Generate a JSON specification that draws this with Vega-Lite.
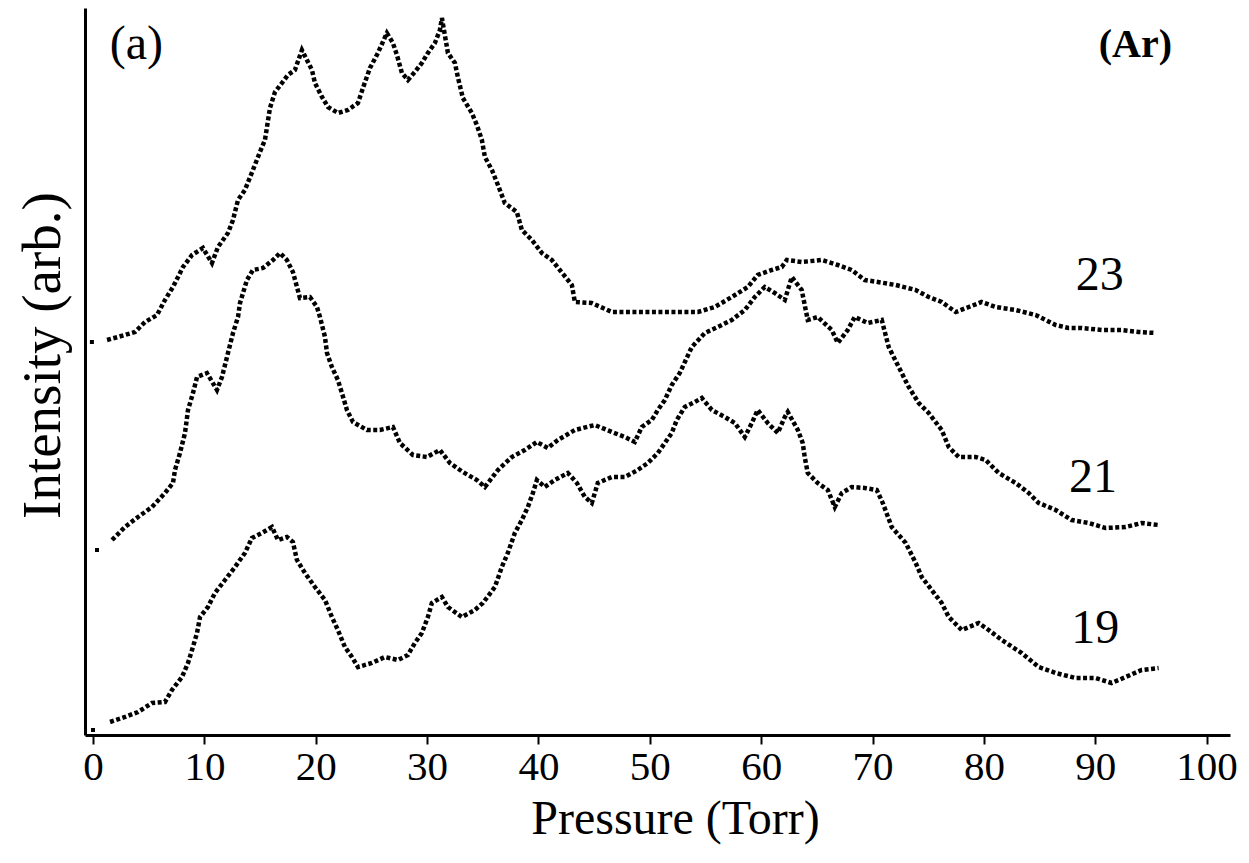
{
  "$schema": "https://vega.github.io/schema/vega-lite/v6.json",
  "width": 1145,
  "height": 727,
  "autosize": "none",
  "padding": {"left": 85, "top": 8, "right": 19, "bottom": 128},
  "background": "white",
  "config": {"view": {"stroke": null}, "font": "Liberation Serif"},
  "datasets": {
    "curves": [
      {"s":"23","p":1.26,"v":395},{"s":"23","p":2.24,"v":398},{"s":"23","p":3.77,"v":403},{"s":"23","p":4.67,"v":413},{"s":"23","p":5.75,"v":420},{"s":"23","p":6.46,"v":435},{"s":"23","p":7.18,"v":448},{"s":"23","p":8.08,"v":468},{"s":"23","p":8.89,"v":480},{"s":"23","p":9.87,"v":487},{"s":"23","p":10.68,"v":472},{"s":"23","p":11.22,"v":488},{"s":"23","p":12.12,"v":502},{"s":"23","p":12.57,"v":515},{"s":"23","p":13.02,"v":535},{"s":"23","p":13.64,"v":545},{"s":"23","p":14.36,"v":565},{"s":"23","p":14.99,"v":583},{"s":"23","p":15.44,"v":595},{"s":"23","p":15.89,"v":627},{"s":"23","p":16.34,"v":643},{"s":"23","p":16.97,"v":652},{"s":"23","p":17.5,"v":660},{"s":"23","p":18.13,"v":665},{"s":"23","p":18.76,"v":685},{"s":"23","p":19.66,"v":665},{"s":"23","p":19.93,"v":652},{"s":"23","p":20.56,"v":638},{"s":"23","p":21.1,"v":628},{"s":"23","p":21.99,"v":622},{"s":"23","p":22.89,"v":625},{"s":"23","p":23.79,"v":632},{"s":"23","p":24.24,"v":647},{"s":"23","p":24.87,"v":667},{"s":"23","p":25.58,"v":682},{"s":"23","p":26.39,"v":702},{"s":"23","p":26.93,"v":692},{"s":"23","p":27.29,"v":680},{"s":"23","p":27.74,"v":662},{"s":"23","p":28.28,"v":655},{"s":"23","p":28.9,"v":663},{"s":"23","p":29.53,"v":672},{"s":"23","p":30.07,"v":682},{"s":"23","p":30.7,"v":692},{"s":"23","p":31.15,"v":705},{"s":"23","p":31.33,"v":717},{"s":"23","p":31.87,"v":682},{"s":"23","p":32.5,"v":672},{"s":"23","p":32.76,"v":658},{"s":"23","p":33.21,"v":637},{"s":"23","p":34.02,"v":622},{"s":"23","p":34.47,"v":610},{"s":"23","p":34.92,"v":595},{"s":"23","p":35.19,"v":578},{"s":"23","p":35.82,"v":565},{"s":"23","p":36.36,"v":550},{"s":"23","p":36.98,"v":532},{"s":"23","p":38.06,"v":523},{"s":"23","p":38.51,"v":505},{"s":"23","p":39.41,"v":495},{"s":"23","p":40.31,"v":482},{"s":"23","p":41.2,"v":475},{"s":"23","p":41.92,"v":465},{"s":"23","p":43.0,"v":450},{"s":"23","p":43.27,"v":433},{"s":"23","p":44.79,"v":432},{"s":"23","p":46.59,"v":423},{"s":"23","p":48.38,"v":423},{"s":"23","p":50.18,"v":423},{"s":"23","p":51.97,"v":423},{"s":"23","p":54.31,"v":423},{"s":"23","p":55.83,"v":428},{"s":"23","p":57.36,"v":438},{"s":"23","p":58.8,"v":448},{"s":"23","p":59.69,"v":460},{"s":"23","p":60.95,"v":465},{"s":"23","p":61.85,"v":468},{"s":"23","p":62.3,"v":475},{"s":"23","p":63.64,"v":473},{"s":"23","p":65.44,"v":475},{"s":"23","p":66.88,"v":470},{"s":"23","p":68.13,"v":465},{"s":"23","p":69.3,"v":455},{"s":"23","p":70.47,"v":453},{"s":"23","p":72.08,"v":450},{"s":"23","p":73.88,"v":445},{"s":"23","p":75.04,"v":438},{"s":"23","p":76.21,"v":433},{"s":"23","p":77.47,"v":423},{"s":"23","p":78.64,"v":428},{"s":"23","p":79.8,"v":433},{"s":"23","p":81.06,"v":428},{"s":"23","p":82.85,"v":425},{"s":"23","p":84.65,"v":420},{"s":"23","p":86.45,"v":410},{"s":"23","p":87.61,"v":407},{"s":"23","p":88.78,"v":407},{"s":"23","p":90.57,"v":405},{"s":"23","p":92.37,"v":405},{"s":"23","p":93.9,"v":403},{"s":"23","p":95.42,"v":402},
      {"s":"21","p":1.71,"v":195},{"s":"21","p":2.87,"v":208},{"s":"21","p":4.04,"v":218},{"s":"21","p":5.3,"v":228},{"s":"21","p":6.46,"v":242},{"s":"21","p":7.18,"v":252},{"s":"21","p":7.36,"v":265},{"s":"21","p":7.81,"v":282},{"s":"21","p":8.26,"v":302},{"s":"21","p":8.53,"v":325},{"s":"21","p":8.98,"v":342},{"s":"21","p":9.34,"v":358},{"s":"21","p":10.23,"v":362},{"s":"21","p":11.13,"v":345},{"s":"21","p":11.58,"v":358},{"s":"21","p":12.03,"v":378},{"s":"21","p":12.57,"v":402},{"s":"21","p":13.02,"v":418},{"s":"21","p":13.2,"v":432},{"s":"21","p":13.82,"v":455},{"s":"21","p":14.36,"v":465},{"s":"21","p":15.26,"v":467},{"s":"21","p":16.16,"v":475},{"s":"21","p":16.79,"v":482},{"s":"21","p":17.41,"v":475},{"s":"21","p":17.95,"v":463},{"s":"21","p":18.58,"v":437},{"s":"21","p":19.48,"v":438},{"s":"21","p":20.11,"v":428},{"s":"21","p":20.38,"v":418},{"s":"21","p":20.83,"v":398},{"s":"21","p":21.01,"v":382},{"s":"21","p":21.45,"v":368},{"s":"21","p":21.99,"v":355},{"s":"21","p":22.35,"v":342},{"s":"21","p":22.8,"v":325},{"s":"21","p":23.34,"v":313},{"s":"21","p":24.6,"v":305},{"s":"21","p":25.76,"v":305},{"s":"21","p":26.93,"v":308},{"s":"21","p":27.56,"v":292},{"s":"21","p":28.73,"v":280},{"s":"21","p":29.98,"v":278},{"s":"21","p":31.15,"v":285},{"s":"21","p":32.05,"v":272},{"s":"21","p":33.21,"v":263},{"s":"21","p":34.47,"v":255},{"s":"21","p":35.19,"v":248},{"s":"21","p":36.36,"v":265},{"s":"21","p":37.61,"v":278},{"s":"21","p":38.78,"v":285},{"s":"21","p":39.86,"v":293},{"s":"21","p":40.84,"v":287},{"s":"21","p":41.74,"v":295},{"s":"21","p":43.27,"v":305},{"s":"21","p":45.06,"v":310},{"s":"21","p":46.59,"v":303},{"s":"21","p":47.76,"v":298},{"s":"21","p":48.65,"v":293},{"s":"21","p":49.28,"v":308},{"s":"21","p":50.18,"v":315},{"s":"21","p":50.72,"v":325},{"s":"21","p":51.35,"v":335},{"s":"21","p":51.97,"v":350},{"s":"21","p":52.69,"v":362},{"s":"21","p":53.77,"v":388},{"s":"21","p":54.94,"v":402},{"s":"21","p":56.1,"v":408},{"s":"21","p":57.36,"v":415},{"s":"21","p":58.53,"v":425},{"s":"21","p":59.43,"v":438},{"s":"21","p":60.32,"v":448},{"s":"21","p":61.22,"v":442},{"s":"21","p":62.12,"v":435},{"s":"21","p":62.75,"v":458},{"s":"21","p":63.64,"v":445},{"s":"21","p":64.18,"v":415},{"s":"21","p":65.08,"v":418},{"s":"21","p":66.34,"v":405},{"s":"21","p":66.88,"v":392},{"s":"21","p":67.77,"v":405},{"s":"21","p":68.4,"v":418},{"s":"21","p":69.57,"v":412},{"s":"21","p":70.83,"v":415},{"s":"21","p":71.45,"v":388},{"s":"21","p":72.35,"v":368},{"s":"21","p":73.25,"v":348},{"s":"21","p":74.15,"v":332},{"s":"21","p":75.04,"v":322},{"s":"21","p":76.21,"v":305},{"s":"21","p":76.84,"v":288},{"s":"21","p":77.74,"v":278},{"s":"21","p":79.26,"v":278},{"s":"21","p":80.16,"v":275},{"s":"21","p":81.33,"v":262},{"s":"21","p":82.85,"v":252},{"s":"21","p":84.02,"v":242},{"s":"21","p":84.92,"v":232},{"s":"21","p":86.45,"v":225},{"s":"21","p":87.88,"v":215},{"s":"21","p":89.41,"v":212},{"s":"21","p":90.93,"v":207},{"s":"21","p":92.73,"v":208},{"s":"21","p":94.17,"v":212},{"s":"21","p":95.69,"v":210},
      {"s":"19","p":1.53,"v":13},{"s":"19","p":2.87,"v":18},{"s":"19","p":4.04,"v":23},{"s":"19","p":5.3,"v":32},{"s":"19","p":6.46,"v":33},{"s":"19","p":7.09,"v":45},{"s":"19","p":7.99,"v":58},{"s":"19","p":8.53,"v":72},{"s":"19","p":8.89,"v":85},{"s":"19","p":9.34,"v":102},{"s":"19","p":9.61,"v":118},{"s":"19","p":10.32,"v":128},{"s":"19","p":10.95,"v":142},{"s":"19","p":11.85,"v":155},{"s":"19","p":12.75,"v":168},{"s":"19","p":13.64,"v":182},{"s":"19","p":14.27,"v":197},{"s":"19","p":15.17,"v":202},{"s":"19","p":16.07,"v":208},{"s":"19","p":16.61,"v":195},{"s":"19","p":17.41,"v":198},{"s":"19","p":17.95,"v":193},{"s":"19","p":18.31,"v":175},{"s":"19","p":19.03,"v":162},{"s":"19","p":19.93,"v":148},{"s":"19","p":20.83,"v":135},{"s":"19","p":21.45,"v":118},{"s":"19","p":21.99,"v":105},{"s":"19","p":22.62,"v":88},{"s":"19","p":23.25,"v":78},{"s":"19","p":23.79,"v":68},{"s":"19","p":25.04,"v":72},{"s":"19","p":26.21,"v":78},{"s":"19","p":27.38,"v":75},{"s":"19","p":28.28,"v":80},{"s":"19","p":28.9,"v":92},{"s":"19","p":29.53,"v":102},{"s":"19","p":30.07,"v":118},{"s":"19","p":30.43,"v":132},{"s":"19","p":31.33,"v":138},{"s":"19","p":31.87,"v":128},{"s":"19","p":33.12,"v":118},{"s":"19","p":34.29,"v":125},{"s":"19","p":35.01,"v":132},{"s":"19","p":36.09,"v":148},{"s":"19","p":36.71,"v":168},{"s":"19","p":37.25,"v":182},{"s":"19","p":37.88,"v":202},{"s":"19","p":38.51,"v":215},{"s":"19","p":39.05,"v":228},{"s":"19","p":39.5,"v":242},{"s":"19","p":39.86,"v":255},{"s":"19","p":40.57,"v":248},{"s":"19","p":41.47,"v":255},{"s":"19","p":42.64,"v":262},{"s":"19","p":43.45,"v":252},{"s":"19","p":44.17,"v":238},{"s":"19","p":44.79,"v":232},{"s":"19","p":45.33,"v":252},{"s":"19","p":46.59,"v":258},{"s":"19","p":47.76,"v":258},{"s":"19","p":48.92,"v":265},{"s":"19","p":49.82,"v":272},{"s":"19","p":50.72,"v":282},{"s":"19","p":51.35,"v":292},{"s":"19","p":51.97,"v":302},{"s":"19","p":52.42,"v":315},{"s":"19","p":53.14,"v":328},{"s":"19","p":54.04,"v":333},{"s":"19","p":54.67,"v":337},{"s":"19","p":55.57,"v":325},{"s":"19","p":56.73,"v":318},{"s":"19","p":57.63,"v":312},{"s":"19","p":58.53,"v":298},{"s":"19","p":59.16,"v":312},{"s":"19","p":59.69,"v":325},{"s":"19","p":60.59,"v":312},{"s":"19","p":61.49,"v":302},{"s":"19","p":62.12,"v":318},{"s":"19","p":62.39,"v":323},{"s":"19","p":63.29,"v":305},{"s":"19","p":63.73,"v":292},{"s":"19","p":63.91,"v":278},{"s":"19","p":64.18,"v":262},{"s":"19","p":65.08,"v":252},{"s":"19","p":65.98,"v":245},{"s":"19","p":66.61,"v":228},{"s":"19","p":67.24,"v":242},{"s":"19","p":68.13,"v":248},{"s":"19","p":69.3,"v":247},{"s":"19","p":70.38,"v":245},{"s":"19","p":70.92,"v":232},{"s":"19","p":71.72,"v":208},{"s":"19","p":72.98,"v":192},{"s":"19","p":73.88,"v":172},{"s":"19","p":74.42,"v":158},{"s":"19","p":75.31,"v":145},{"s":"19","p":76.21,"v":132},{"s":"19","p":76.84,"v":118},{"s":"19","p":78.01,"v":105},{"s":"19","p":79.53,"v":112},{"s":"19","p":80.43,"v":105},{"s":"19","p":81.6,"v":95},{"s":"19","p":83.39,"v":82},{"s":"19","p":84.92,"v":68},{"s":"19","p":86.45,"v":62},{"s":"19","p":88.24,"v":57},{"s":"19","p":90.04,"v":57},{"s":"19","p":91.47,"v":52},{"s":"19","p":92.73,"v":58},{"s":"19","p":94.17,"v":65},{"s":"19","p":95.69,"v":67}
    ],
    "lone": [
      {"s":"23","p":-0.1,"v":393},
      {"s":"21","p":0.36,"v":185},
      {"s":"19","p":0.0,"v":5}
    ],
    "labels": [
      {"t":"(a)","p":3.9,"v":690},
      {"t":"23","p":90.4,"v":459},
      {"t":"21","p":89.8,"v":257},
      {"t":"19","p":90.0,"v":106}
    ],
    "gas": [
      {"t":"(Ar)","p":93.6,"v":690}
    ]
  },
  "encoding": {
    "x": {
      "field": "p",
      "type": "quantitative",
      "scale": {"domain": [-0.72, 102.1], "nice": false, "zero": false},
      "axis": {
        "title": "Pressure (Torr)",
        "values": [0,10,20,30,40,50,60,70,80,90,100],
        "grid": false,
        "domainColor": "black",
        "domainWidth": 3,
        "tickColor": "black",
        "tickWidth": 2,
        "tickSize": 9,
        "labelFont": "Liberation Serif",
        "labelFontSize": 41,
        "labelColor": "black",
        "labelPadding": 3,
        "labelFlush": false,
        "titleFont": "Liberation Serif",
        "titleFontSize": 48,
        "titleFontWeight": "normal",
        "titleColor": "black",
        "titleX": 590,
        "titleY": 98,
        "titleAlign": "center",
        "titleBaseline": "alphabetic"
      }
    },
    "y": {
      "field": "v",
      "type": "quantitative",
      "scale": {"domain": [0, 727], "nice": false, "zero": false},
      "axis": {
        "title": "Intensity (arb.)",
        "grid": false,
        "ticks": false,
        "labels": false,
        "domainColor": "black",
        "domainWidth": 3,
        "titleFont": "Liberation Serif",
        "titleFontSize": 55,
        "titleFontWeight": "normal",
        "titleColor": "black",
        "titleAngle": -90,
        "titleX": -26,
        "titleY": 347,
        "titleAlign": "center",
        "titleBaseline": "alphabetic"
      }
    }
  },
  "layer": [
    {
      "data": {"name": "curves"},
      "mark": {"type": "line", "color": "black", "strokeWidth": 4.5, "strokeDash": [4, 2.5], "strokeCap": "butt"},
      "encoding": {"detail": {"field": "s", "type": "nominal"}}
    },
    {
      "data": {"name": "lone"},
      "mark": {"type": "point", "shape": "square", "filled": true, "color": "black", "size": 16, "opacity": 1}
    },
    {
      "data": {"name": "labels"},
      "mark": {"type": "text", "font": "Liberation Serif", "fontSize": 48, "color": "black", "align": "center", "baseline": "middle"},
      "encoding": {"text": {"field": "t", "type": "nominal"}}
    },
    {
      "data": {"name": "gas"},
      "mark": {"type": "text", "font": "Liberation Serif", "fontSize": 40, "fontWeight": "bold", "color": "black", "align": "center", "baseline": "middle"},
      "encoding": {"text": {"field": "t", "type": "nominal"}}
    }
  ]
}
